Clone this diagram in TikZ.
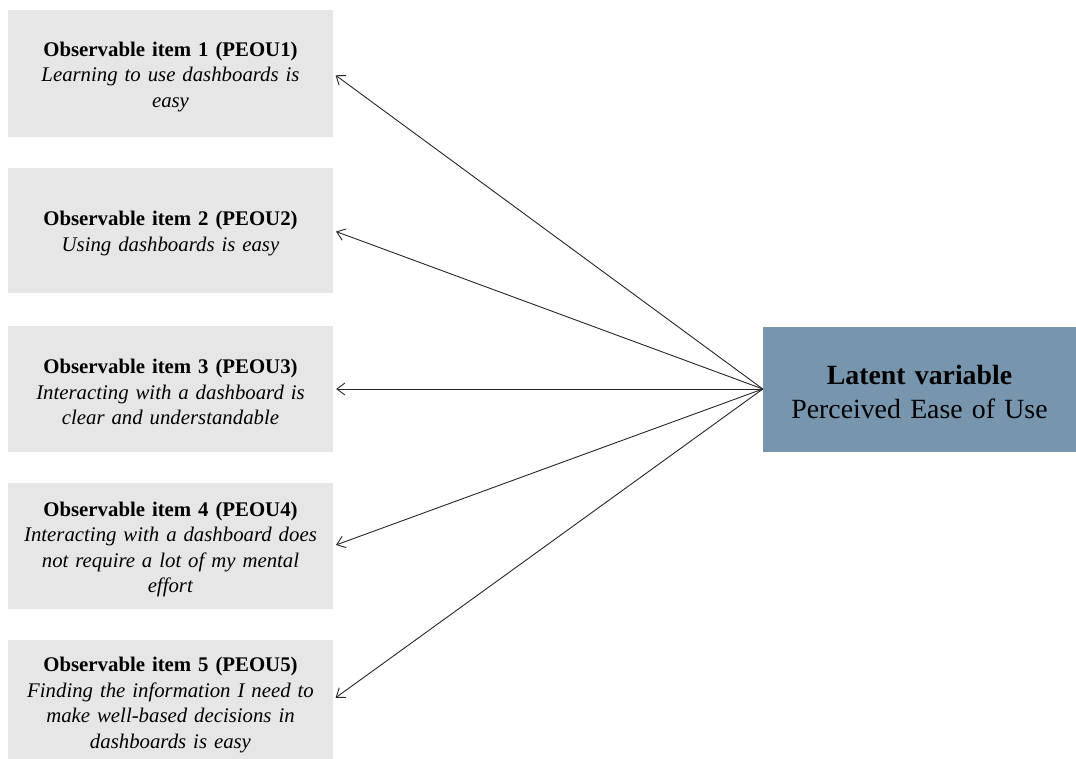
\documentclass[tikz,border=0pt]{standalone}
\usepackage{fontspec}
\setmainfont{Liberation Serif}
\usetikzlibrary{arrows.meta}
\definecolor{itemgray}{HTML}{E6E6E6}
\definecolor{latentblue}{HTML}{7796AE}
\tikzset{
  itembox/.style={fill=itemgray, draw=none, minimum width=325pt, inner sep=0pt},
  itemtext/.style={text width=320pt, align=center, inner sep=0pt, font=\fontsize{20.8}{25.6}\selectfont},
  latentbox/.style={fill=latentblue, draw=none, minimum width=313pt, minimum height=125pt, inner sep=0pt},
  latenttext/.style={text width=310pt, align=center, inner sep=0pt, font=\fontsize{27.8}{34}\selectfont},
  link/.style={draw=black!85, line width=0.9pt, -{Straight Barb[length=8pt,width=12pt]}, shorten >=3pt}
}
\begin{document}
\begin{tikzpicture}[x=1pt,y=-1pt]
\useasboundingbox (0,0) rectangle (1076,759);
\node[itembox, minimum height=127pt] (i1) at (170.5,73.5) {};
\node[itemtext] (t1) at ([yshift=-3.5pt]i1.center) {\textbf{Observable item 1 (PEOU1)}\\\textit{Learning to use dashboards is}\\\textit{easy}};
\node[itembox, minimum height=125pt] (i2) at (170.5,230.5) {};
\node[itemtext] (t2) at ([yshift=-3pt]i2.center) {\textbf{Observable item 2 (PEOU2)}\\\textit{Using dashboards is easy}};
\node[itembox, minimum height=126pt] (i3) at (170.5,389) {};
\node[itemtext] (t3) at ([yshift=-3pt]i3.center) {\textbf{Observable item 3 (PEOU3)}\\\textit{Interacting with a dashboard is}\\\textit{clear and understandable}};
\node[itembox, minimum height=126pt] (i4) at (170.5,546) {};
\node[itemtext] (t4) at ([yshift=-3.5pt]i4.center) {\textbf{Observable item 4 (PEOU4)}\\\textit{Interacting with a dashboard does}\\\textit{not require a lot of my mental}\\\textit{effort}};
\node[itembox, minimum height=119pt] (i5) at (170.5,699.5) {};
\node[itemtext] (t5) at ([yshift=-5.5pt]i5.center) {\textbf{Observable item 5 (PEOU5)}\\\textit{Finding the information I need to}\\\textit{make well-based decisions in}\\\textit{dashboards is easy}};
\node[latentbox] (lv) at (919.5,389) {};
\node[latenttext] (lt) at ([yshift=-2.5pt]lv.center) {\textbf{Latent variable}\\Perceived Ease of Use};
\coordinate (src) at (lv.west);
\foreach \n in {1,...,5} {
  \draw[link] (src) -- (i\n.east);
}
\end{tikzpicture}
\end{document}
